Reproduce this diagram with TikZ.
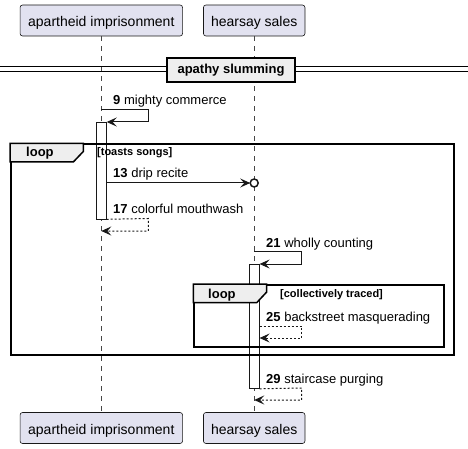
\documentclass[tikz,border=0pt]{standalone}
\usepackage{fontspec}
\setmainfont{Liberation Sans}
\usetikzlibrary{arrows.meta}
\definecolor{partfill}{HTML}{E2E2F0}
\definecolor{ink}{HTML}{181818}
\definecolor{tabfill}{HTML}{EEEEEE}
\tikzset{
  part/.style={draw=ink, fill=partfill, line width=0.6pt, rounded corners=2.5pt,
    inner sep=0pt, text height=16pt, text depth=3pt, minimum height=31pt,
    font=\fontsize{14}{16}\selectfont},
  lifeline/.style={draw=ink!80, line width=0.5pt, dash pattern=on 5pt off 5pt},
  frame/.style={draw=black, line width=1.5pt},
  tabshape/.style={draw=black, fill=tabfill, line width=1.5pt},
  actbar/.style={draw=ink, fill=white, line width=0.8pt},
  msg/.style={draw=ink, line width=1pt, -{Stealth[length=10pt,width=9pt,inset=4pt]}},
  ret/.style={msg, dash pattern=on 2pt off 2pt},
  lbl/.style={anchor=base west, inner sep=0pt, font=\fontsize{13}{15}\selectfont},
  grp/.style={anchor=base west, inner sep=0pt, font=\fontsize{11}{13}\selectfont\bfseries},
  looplbl/.style={anchor=base west, inner sep=0pt, font=\fontsize{13}{15}\selectfont\bfseries},
}
\begin{document}
\begin{tikzpicture}[x=1pt,y=-1pt]
\useasboundingbox (0,0) rectangle (468,449);
% participants
\node[part, minimum width=162.5pt] (pa) at (101.3,20.5) {apartheid imprisonment};
\node[part, minimum width=101.5pt] (pb) at (254.2,20.5) {hearsay sales};
\node[part, minimum width=162.5pt] (pa2) at (101.3,428) {apartheid imprisonment};
\node[part, minimum width=101.5pt] (pb2) at (254.2,428) {hearsay sales};
% lifelines
\draw[lifeline] (pa.south) -- (pa2.north);
\draw[lifeline] (pb.south) -- (pb2.north);
% divider
\draw[black, line width=1pt] (0,67) -- (468,67);
\draw[black, line width=1pt] (0,71.5) -- (468,71.5);
\node[draw=black, line width=1.5pt, fill=tabfill, minimum width=128pt, minimum height=24pt,
  inner sep=0pt, font=\fontsize{13}{15}\selectfont\bfseries] (div) at (231,70) {apathy slumming};
% activation bars
\node[actbar, minimum width=10pt, minimum height=96.5pt, inner sep=0pt, anchor=north] (actA) at (101.3,122) {};
\node[actbar, minimum width=10pt, minimum height=124pt, inner sep=0pt, anchor=north] (actB) at (254.2,264) {};
% outer loop
\node[frame, minimum width=443pt, minimum height=210.5pt, inner sep=0pt, anchor=north west] (loopA) at (10,143.5) {};
\filldraw[tabshape] (10,143.5) -- (83.3,143.5) -- (83.3,151.5) -- (73.3,162) -- (10,162) -- cycle;
\node[looplbl] (loopAt) at (26,157) {loop};
\node[grp] (loopAg) at (97,155.5) {[toasts songs]};
% inner loop
\node[frame, minimum width=250pt, minimum height=62pt, inner sep=0pt, anchor=north west] (loopB) at (193.3,284) {};
\filldraw[tabshape] (193.3,284) -- (266.7,284) -- (266.7,292) -- (256.7,302.7) -- (193.3,302.7) -- cycle;
\node[looplbl] (loopBt) at (208,298) {loop};
\node[grp] (loopBg) at (280,297) {[collectively traced]};
% coordinates
\coordinate (a9) at (101.3,110);
\coordinate (a9r) at (148.3,110);
\coordinate (b13) at (254.2,183);
\coordinate (b21) at (254.2,251.7);
% message 9
\draw[msg] (a9) -- (a9r) -- (148.3,122) -- (actA.north east);
\node[lbl] (l9) at (113,105) {\textbf{9} mighty commerce};
% message 13
\draw[msg, shorten >=4pt] (actA.east |- b13) -- (b13);
\draw[ink, line width=1.5pt, fill=white] (b13) circle (4pt);
\node[lbl] (l13) at (113,178) {\textbf{13} drip recite};
% message 17
\draw[ret] (actA.south east) -- (148.3,218.5) -- (148.3,231) -- (101.3,231);
\node[lbl] (l17) at (113,213.5) {\textbf{17} colorful mouthwash};
% message 21
\draw[msg] (b21) -- (301.7,251.7) -- (301.7,264) -- (actB.north east);
\node[lbl] (l21) at (266,247) {\textbf{21} wholly counting};
% message 25
\draw[ret] (actB.east |- 0,326) -- (301.7,326) -- (301.7,338) -- (actB.east |- 0,338);
\node[lbl] (l25) at (266,321.5) {\textbf{25} backstreet masquerading};
% message 29
\draw[ret] (actB.south east) -- (301.7,388) -- (301.7,400) -- (254.2,400);
\node[lbl] (l29) at (266,383) {\textbf{29} staircase purging};
\end{tikzpicture}
\end{document}
